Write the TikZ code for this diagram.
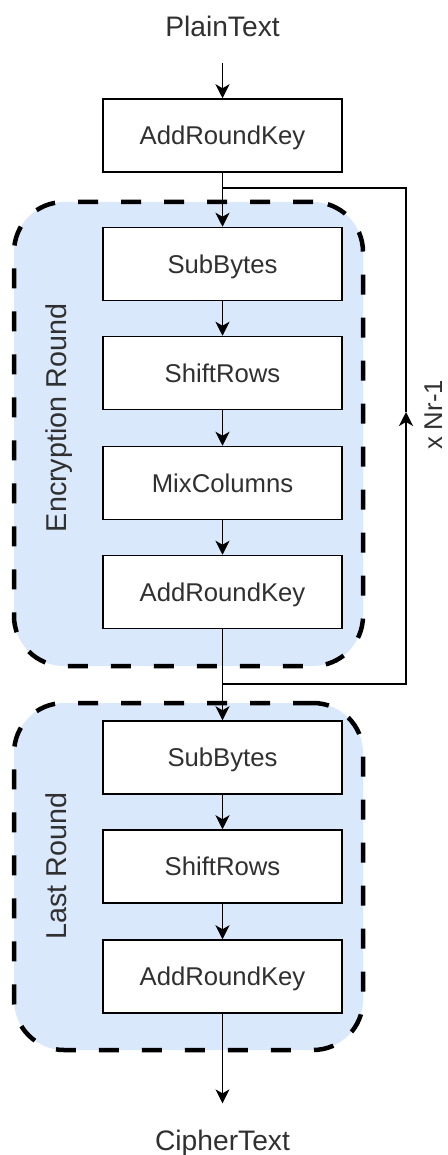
\documentclass[tikz,border=0pt]{standalone}
\usepackage{fontspec}
\setmainfont{Liberation Sans}
\usetikzlibrary{arrows.meta}
\definecolor{roundfill}{HTML}{DAE8FC}
\definecolor{txt}{HTML}{303030}

\begin{document}
\begin{tikzpicture}[x=1pt,y=-1pt,
  stepbox/.style={draw=black, line width=1.5pt, fill=white,
    minimum width=239pt, minimum height=73pt, inner sep=0pt,
    text height=18.4pt, text depth=0pt,
    font=\fontsize{25.7}{30}\selectfont, text=txt},
  roundbox/.style={draw=black, line width=4.5pt, dash pattern=on 20pt off 23pt,
    fill=roundfill, rounded corners=50pt, inner sep=0pt},
  endlabel/.style={inner xsep=0pt, inner ysep=26pt,
    font=\fontsize{28.2}{32}\selectfont, text=txt},
  sidelabel/.style={rotate=90, inner sep=0pt, anchor=base,
    font=\fontsize{28.7}{32}\selectfont, text=txt},
  link/.style={line width=1.5pt},
  flow/.style={link, -{Stealth[length=14pt,width=14pt,inset=4pt]}}
]
\useasboundingbox (0,0) rectangle (447,1155);

% round containers
\node[roundbox, minimum width=349pt, minimum height=464pt] (enc) at (188.5,434) {};
\node[roundbox, minimum width=349pt, minimum height=347pt] (last) at (188.5,876.5) {};
\node[sidelabel] (enclabel) at (66,418) {Encryption Round};
\node[sidelabel] (lastlabel) at (66,866) {Last Round};

% input / output
\node[endlabel, anchor=base] (plain) at (222.5,37) {PlainText};
\node[endlabel, anchor=base] (cipher) at (222.5,1150) {CipherText};

% steps
\node[stepbox] (ark0) at (222.5,135.5) {AddRoundKey};
\node[stepbox] (sb1)  at (222.5,264)   {SubBytes};
\node[stepbox] (sr1)  at (222.5,373)   {ShiftRows};
\node[stepbox] (mc1)  at (222.5,483)   {MixColumns};
\node[stepbox] (ark1) at (222.5,592)   {AddRoundKey};
\node[stepbox] (sb2)  at (222.5,757.5) {SubBytes};
\node[stepbox] (sr2)  at (222.5,866.5) {ShiftRows};
\node[stepbox] (ark2) at (222.5,976.5) {AddRoundKey};

% main flow
\draw[flow] (plain.south) -- (ark0.north);
\draw[flow] (ark0.south) -- (sb1.north);
\draw[flow] (sb1.south) -- (sr1.north);
\draw[flow] (sr1.south) -- (mc1.north);
\draw[flow] (mc1.south) -- (ark1.north);
\draw[flow] (ark1.south) -- (sb2.north);
\draw[flow] (sb2.south) -- (sr2.north);
\draw[flow] (sr2.south) -- (ark2.north);
\draw[flow] (ark2.south) -- (cipher.north);

% repeat loop
\coordinate (split) at (222.5,188);
\coordinate (merge) at (222.5,684);
\coordinate (loopTR) at (406,188);
\coordinate (loopBR) at (406,684);
\coordinate (loopMid) at (406,412);
\draw[flow] (merge) -- (loopBR) -- (loopMid);
\draw[link] (loopMid) -- (loopTR) -- (split);
\node[rotate=90, inner sep=0pt, anchor=base, font=\fontsize{25.7}{30}\selectfont, text=txt]
  (reps) at (442,415) {x Nr-1};
\end{tikzpicture}
\end{document}
